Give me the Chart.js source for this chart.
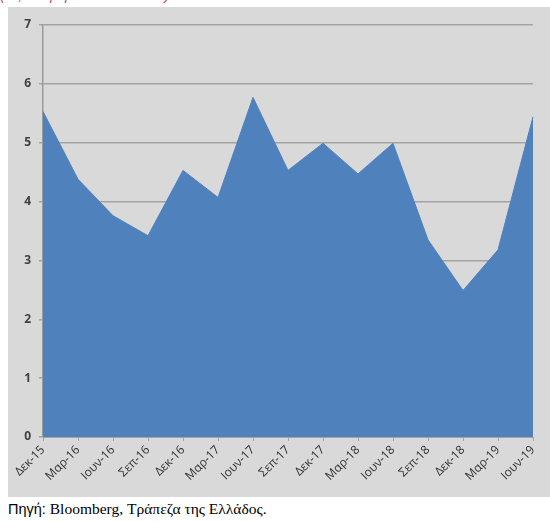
<!DOCTYPE html>
<html>
<head>
<meta charset="utf-8">
<script src="https://cdn.jsdelivr.net/npm/chart.js@4/dist/chart.umd.min.js"></script>
<style>
  html, body { margin: 0; padding: 0; background: #ffffff; width: 550px; height: 522px; overflow: hidden; position: relative; }
  #title { position: absolute; left: 0; top: -14px; font: italic 15px "Liberation Sans", Arial, sans-serif; color: #b84a86; white-space: nowrap; }
  #panel { position: absolute; left: 8px; top: 7px; width: 542px; height: 490px; background: #d9d9d9; }
  #chart { position: absolute; left: 0; top: 0; }
  #source { position: absolute; left: 8px; top: 500px; white-space: nowrap; color: #000; }
  #source .lab { font: 14.5px "Liberation Sans", Arial, sans-serif; }
  #source .txt { font: 15.5px "Liberation Serif", "Times New Roman", serif; }
</style>
</head>
<body>
<div id="title">(%, διαφορά αποδόσεων)</div>
<div id="panel"><canvas id="chart" width="542" height="490"></canvas></div>
<div id="source"><span class="lab">Πηγή:</span><span class="txt"> Bloomberg, Τράπεζα της Ελλάδος.</span></div>
<script>
// Quarter-end observations
const quarters = ["Δεκ-15", "Μαρ-16", "Ιουν-16", "Σεπ-16", "Δεκ-16", "Μαρ-17", "Ιουν-17", "Σεπ-17",
                  "Δεκ-17", "Μαρ-18", "Ιουν-18", "Σεπ-18", "Δεκ-18", "Μαρ-19", "Ιουν-19"];
const values = [5.53, 4.38, 3.76, 3.42, 4.53, 4.07, 5.77, 4.53, 4.99, 4.47, 4.99, 3.35, 2.49, 3.18, 5.44];
const yTicks = [0, 1, 2, 3, 4, 5, 6, 7];

const gridGrey = '#a3a3a3';

new Chart(document.getElementById('chart'), {
  type: 'line',
  data: {
    labels: quarters,
    datasets: [{
      data: values,
      fill: 'origin',
      backgroundColor: '#4f81bd',
      borderColor: '#4f81bd',
      borderWidth: 1,
      pointRadius: 0,
      tension: 0
    }]
  },
  options: {
    responsive: false,
    animation: false,
    layout: { padding: { top: 18, right: 17, left: 0, bottom: 0 } },
    plugins: { legend: { display: false }, tooltip: { enabled: false } },
    scales: {
      x: {
        offset: false,
        grid: { drawOnChartArea: false, drawTicks: true, tickLength: 4, color: gridGrey, lineWidth: 1 },
        border: { display: true, color: gridGrey, width: 1 },
        ticks: {
          autoSkip: false, maxRotation: 45, minRotation: 45, padding: 2,
          color: '#333333',
          font: { family: '"Open Sans", "DejaVu Sans", sans-serif', size: 12 }
        },
        afterFit: (s) => { s.height = 60; }
      },
      y: {
        min: yTicks[0],
        max: yTicks[yTicks.length - 1],
        afterBuildTicks: (s) => { s.ticks = yTicks.map(v => ({ value: v })); },
        grid: { color: gridGrey, lineWidth: 1.5, tickLength: 4 },
        border: { display: true, color: '#999999', width: 1.5 },
        ticks: {
          padding: 8,
          color: '#404040',
          font: { family: '"Open Sans", "DejaVu Sans", sans-serif', size: 12, weight: 'bold' }
        },
        afterFit: (s) => { s.width = 35; }
      }
    }
  }
});
</script>
</body>
</html>
